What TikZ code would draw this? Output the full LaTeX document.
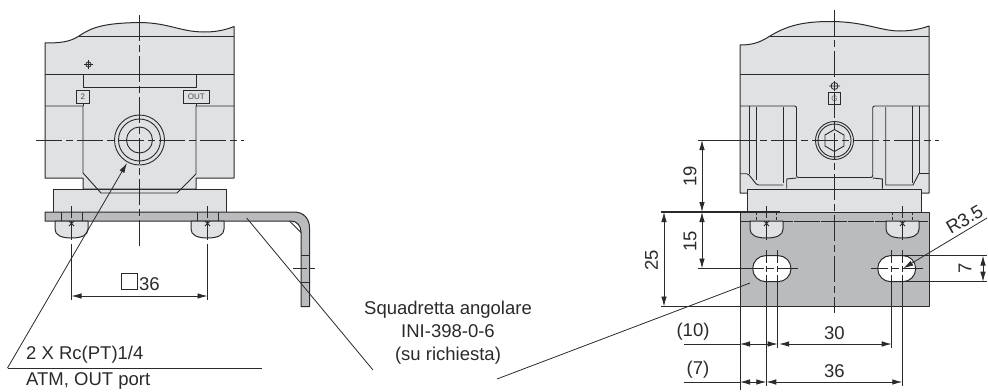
\documentclass[tikz,border=0pt]{standalone}
\usepackage{fontspec}
\setmainfont{Liberation Sans}
\usetikzlibrary{arrows.meta}
\definecolor{ink}{HTML}{2A2A2C}
\definecolor{bodyg}{HTML}{E0E1E3}
\definecolor{plateg}{HTML}{BABBBD}
\tikzset{
  outline/.style={draw=ink,line width=1pt,line join=round},
  edge/.style={draw=ink,line width=0.9pt},
  thin line/.style={draw=ink,line width=0.8pt},
  center line/.style={draw=ink,line width=0.8pt,dash pattern=on 26pt off 4pt on 7pt off 4pt},
  dim/.style={draw=ink,line width=0.8pt,{Latex[length=10pt,width=5.5pt]}-{Latex[length=10pt,width=5.5pt]}},
  tipend/.style={draw=ink,line width=0.8pt,-{Latex[length=10pt,width=5.5pt]}},
  label/.style={font=\fontsize{18.5}{23}\selectfont,text=ink,inner sep=0pt},
  tag/.style={font=\fontsize{8}{8}\selectfont,text=ink!85,inner sep=0pt},
}
\begin{document}
\begin{tikzpicture}[x=1pt,y=-1pt]
\useasboundingbox (0,0) rectangle (988,391);
% ============ LEFT VIEW ============
\path[outline,fill=bodyg] (45,178) -- (45,43) .. controls (60,43) and (70,42) .. (79,36)
  .. controls (92,27) and (105,23) .. (140,22.5) .. controls (170,23) and (180,32) .. (205,32)
  .. controls (218,32) and (228,29) .. (234,26.5) -- (234,178) -- (196,178) -- (196,189) -- (83,189) -- (83,178) -- cycle;
\path[outline,fill=bodyg] (53,212) -- (53,189) -- (226.5,189) -- (226.5,212) -- cycle;
\draw[edge] (79,36) -- (234,36) (45,74) -- (234,74);
\draw[edge] (83,74) -- (83,87) -- (196,87) -- (196,74);
\draw[edge] (45,106) -- (83,106) -- (83,173) -- (101,193) -- (177,193) -- (196,174) -- (196,106) -- (234,106);
\path[fill=bodyg] (76.5,88.5) rectangle (209,104);
\draw[edge] (83,104) -- (83,106) (196,104) -- (196,106);
\node[draw=ink,line width=0.8pt,minimum width=12.5pt,minimum height=12.5pt,tag,fill=bodyg] (two) at (82.8,97) {2};
\node[draw=ink,line width=0.8pt,minimum width=25.5pt,minimum height=12.5pt,tag,fill=bodyg] (outtag) at (196.3,97) {OUT};
\draw[thin line] (88.5,64.5) circle[radius=2.6] (84,64.5) -- (93,64.5) (88.5,60) -- (88.5,69);
\draw[edge] (139.5,140) circle[radius=25] (139.5,140) circle[radius=21] (139.5,140) circle[radius=13];
% plate
\path[outline,fill=plateg] (45,212) -- (294,212) .. controls (304,212) and (309.5,219) .. (309.5,228)
  -- (309.5,306.5) -- (301,306.5) -- (301,232) .. controls (301,226) and (297,221) .. (291,221) -- (45,221) -- cycle;
\draw[thin line] (289.5,221) -- (301,232.5);
\draw[thin line] (61,212) -- (61,221) (82,212) -- (82,221) (197,212) -- (197,221) (218,212) -- (218,221);
\draw[thin line] (301,255) -- (309.5,255) (301,282) -- (309.5,282);
\draw[thin line,dash pattern=on 14pt off 3pt on 5pt off 3pt] (293,268.5) -- (317,268.5);
% bolt heads
\path[outline,fill=bodyg] (55,221) -- (55,229) .. controls (55,235) and (61,238) .. (71.5,238) .. controls (82,238) and (88,235) .. (88,229) -- (88,221) -- cycle;
\path[outline,fill=bodyg] (191,221) -- (191,229) .. controls (191,235) and (197,238) .. (207.5,238) .. controls (218,238) and (224,235) .. (224,229) -- (224,221) -- cycle;
\draw[thin line] (69,221) -- (74,226) (74,221) -- (69,226) (205,221) -- (210,226) (210,221) -- (205,226);
% centre lines
\draw[center line] (139.5,15) -- (139.5,247);
\draw[center line] (36,140) -- (244,140);
\draw[thin line] (71.5,206) -- (71.5,218) (71.5,221) -- (71.5,240) (71.5,244) -- (71.5,300);
\draw[thin line] (207.5,206) -- (207.5,218) (207.5,221) -- (207.5,240) (207.5,244) -- (207.5,300);
\coordinate (dl) at (71.5,296); \coordinate (dr) at (207.5,296);
\draw[dim] (dl) -- (dr);
\node[draw=ink,line width=0.8pt,minimum width=16pt,minimum height=16pt,inner sep=0pt] (sq) at (129,281.5) {};
\node[label,anchor=west] (d36a) at (139,284) {36};
% leader to ports
\coordinate (portTip) at (127,163);
\coordinate (portFoot) at (7.5,368);
\coordinate (portEnd) at (262,368);
\draw[tipend] (portFoot) -- (portTip);
\draw[thin line] (portFoot) -- (portEnd);
\node[label,anchor=west] (rc) at (26,355) {2 X Rc(PT)1/4};
\node[label,anchor=west] (atm) at (26,381) {ATM, OUT port};
% bracket label
\node[label,align=center,anchor=center] (squad) at (448,333) {Squadretta angolare\\INI-398-0-6\\(su richiesta)};
\coordinate (brL) at (246.7,218);
\coordinate (brLe) at (373,370);
\coordinate (brR) at (750,283);
\coordinate (brRe) at (497,379);
% ============ RIGHT VIEW ============
\path[outline,fill=bodyg] (740,193) -- (740,45) .. controls (755,45) and (762,41) .. (770,36)
  .. controls (785,27) and (800,21.5) .. (830,21.5) .. controls (865,21.5) and (880,31) .. (900,31)
  .. controls (912,31) and (922,28.5) .. (929,26) -- (929,193) -- cycle;
\path[outline,fill=bodyg] (747.7,212) -- (747.7,189) -- (921.7,189) -- (921.7,212) -- cycle;
\draw[edge] (770,36) -- (929,36) (740,74) -- (929,74);
\draw[edge,rounded corners=2pt] (740,106) -- (796.5,106) -- (796.5,177.5) -- (872.7,177.5) -- (872.7,106) -- (929,106);
\draw[edge] (749.3,106) -- (749.3,173.5) (756,107) -- (756,180);
\draw[edge] (783.3,107) -- (783.3,183);
\draw[edge,rounded corners=1.5pt] (740,173.7) -- (748,173.7) -- (757,185) -- (783.3,185);
\draw[edge] (885.7,107) -- (885.7,185) -- (913,185) -- (919,173.5) -- (929,173.5);
\draw[edge] (912.3,106) -- (912.3,183) (919,106) -- (919,173.5);
\draw[edge] (786.7,188.5) -- (786.7,179) -- (796.5,178) (882.3,188.5) -- (882.3,179) -- (872.7,178);
\draw[edge] (834.5,140.5) circle[radius=19] (834.5,140.5) circle[radius=16.5];
\draw[edge] (834.5,129.5) -- (844,135) -- (844,146) -- (834.5,151.5) -- (825,146) -- (825,135) -- cycle;
\draw[thin line] (834.5,86) circle[radius=3.5] (829,86) -- (840,86) (834.5,81) -- (834.5,91);
\node[draw=ink,line width=0.8pt,minimum width=12.5pt,minimum height=12.5pt,tag,fill=bodyg,text=ink!70] (gtag) at (834.5,98.5) {G};
% plate, front
\path[outline,fill=plateg] (740,212) rectangle (929,306.5);
\draw[thin line,dash pattern=on 26pt off 1pt] (740,221) -- (929,221);
\draw[thin line,densely dashed] (756,212) -- (756,221) (776.7,212) -- (776.7,221) (892.3,212) -- (892.3,221) (912.3,212) -- (912.3,221);
\path[outline,fill=bodyg] (750,221) -- (750,229) .. controls (750,235) and (756,238) .. (766.3,238) .. controls (777,238) and (783,235) .. (783,229) -- (783,221) -- cycle;
\path[outline,fill=bodyg] (886,221) -- (886,229) .. controls (886,235) and (892,238) .. (902.3,238) .. controls (913,238) and (919,235) .. (919,229) -- (919,221) -- cycle;
\draw[thin line] (764,221) -- (769,226) (769,221) -- (764,226) (900,221) -- (905,226) (905,221) -- (900,226);
% slots
\path[draw=ink,line width=1pt,fill=white,rounded corners=13pt] (752.7,255.6) rectangle (791,281.7);
\path[draw=ink,line width=1pt,fill=white,rounded corners=13pt] (877.7,255.6) rectangle (915.7,281.7);
% centre lines
\draw[center line] (834.5,10) -- (834.5,313);
\draw[center line,dash phase=9pt] (739,140) -- (939,140);
% extension and dimension lines
\coordinate (e19t) at (698,140); \coordinate (e19e) at (740,140);
\draw[thin line] (e19t) -- (e19e);
\draw[draw=ink,line width=1.1pt] (661,212) -- (780,212);
\draw[thin line] (661,306.5) -- (929,306.5);
\draw[thin line] (698,268.5) -- (764,268.5) (767,268.5) -- (774,268.5) (777,268.5) -- (798,268.5);
\draw[thin line] (871,268.5) -- (888,268.5) (891,268.5) -- (899,268.5) (902,268.5) -- (923,268.5);
\coordinate (a25t) at (664,212); \coordinate (a25b) at (664,306.5);
\coordinate (a19t) at (702,140); \coordinate (a19b) at (702,212); \coordinate (a15b) at (702,268.5);
\draw[dim] (a25t) -- (a25b);
\draw[dim] (a19t) -- (a19b);
\draw[dim] (a19b) -- (a15b);
\node[label,rotate=90] (t19) at (690,176.5) {19};
\node[label,rotate=90] (t15) at (690,241.5) {15};
\node[label,rotate=90] (t25) at (651.5,260.5) {25};
% bolt / slot verticals
\draw[thin line] (766.3,206) -- (766.3,218) (766.3,221) -- (766.3,240) (766.3,250) -- (766.3,263) (766.3,266) -- (766.3,272) (766.3,275) -- (766.3,386);
\draw[thin line] (902.3,206) -- (902.3,218) (902.3,221) -- (902.3,240) (902.3,250) -- (902.3,263) (902.3,266) -- (902.3,272) (902.3,275) -- (902.3,386);
\draw[thin line] (777.7,250) -- (777.7,263) (777.7,266) -- (777.7,272) (777.7,275) -- (777.7,348);
\draw[thin line] (891.7,250) -- (891.7,263) (891.7,266) -- (891.7,272) (891.7,275) -- (891.7,348);
\draw[thin line] (740,306.5) -- (740,390);
% bottom dims
\coordinate (b10a) at (740,344); \coordinate (b10b) at (777.7,344); \coordinate (b30a) at (779.2,344); \coordinate (b30b) at (891.7,344);
\coordinate (b7a) at (740,382); \coordinate (b7b) at (766.3,382); \coordinate (b36b) at (902.3,382);
\coordinate (b10l) at (684,344); \coordinate (b7l) at (684,382);
\draw[dim] (b10a) -- (b10b);
\draw[dim] (b30a) -- (b30b);
\draw[thin line] (b10l) -- (b10a);
\draw[dim] (b7a) -- (b7b);
\draw[dim] (b7b) -- (b36b);
\draw[thin line] (b7l) -- (b7a);
\node[label] (t10) at (693,332) {(10)};
\node[label] (t30) at (834.3,333) {30};
\node[label] (t7) at (698,370) {(7)};
\node[label] (t36) at (834.3,371) {36};
% 7 and R3.5
\draw[thin line] (903,255.6) -- (987,255.6) (903,281.7) -- (987,281.7);
\coordinate (a7t) at (983,255.6); \coordinate (a7b) at (983,281.7);
\draw[dim] (a7t) -- (a7b);
\node[label,rotate=90] (t7b) at (965,268.5) {7};
\coordinate (rTip) at (903.3,268.3); \coordinate (rEnd) at (987,218);
\draw[tipend] (rEnd) -- (rTip);
\node[label,rotate=30] (tr) at (964.5,219.5) {R3.5};
% bracket leaders
\draw[thin line] (brL) -- (brLe);
\draw[thin line] (brR) -- (brRe);
\end{tikzpicture}
\end{document}
